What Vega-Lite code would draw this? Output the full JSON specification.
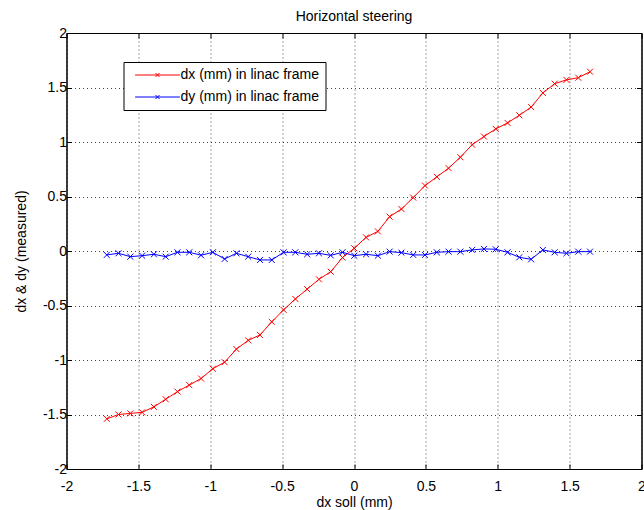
{
  "$schema": "https://vega.github.io/schema/vega-lite/v6.json",
  "width": 575,
  "height": 436,
  "autosize": "none",
  "padding": {"left": 66.5, "top": 33, "right": 2.5, "bottom": 41},
  "background": "white",
  "title": {
    "text": "Horizontal steering",
    "font": "Liberation Sans",
    "fontSize": 14,
    "fontWeight": "normal",
    "color": "black",
    "anchor": "middle",
    "offset": 2
  },
  "config": {
    "view": {"stroke": "black", "strokeWidth": 1},
    "axis": {
      "labelFont": "Liberation Sans",
      "labelFontSize": 14,
      "labelColor": "black",
      "titleFont": "Liberation Sans",
      "titleFontSize": 14,
      "titleFontWeight": "normal",
      "titleColor": "black",
      "domainColor": "black",
      "tickColor": "black",
      "tickSize": -5,
      "gridColor": "black",
      "gridOpacity": 0.75,
      "gridDash": [1, 3],
      "labelFlush": false,
      "labelOverlap": false,
      "labelBound": false,
      "labelExpr": "'' + datum.value"
    }
  },
  "data": {
    "values": [
      {"x": -1.72, "series": "dx (mm) in linac frame", "y": -1.54},
      {"x": -1.638, "series": "dx (mm) in linac frame", "y": -1.5},
      {"x": -1.556, "series": "dx (mm) in linac frame", "y": -1.49},
      {"x": -1.474, "series": "dx (mm) in linac frame", "y": -1.48},
      {"x": -1.392, "series": "dx (mm) in linac frame", "y": -1.43},
      {"x": -1.31, "series": "dx (mm) in linac frame", "y": -1.36},
      {"x": -1.228, "series": "dx (mm) in linac frame", "y": -1.29},
      {"x": -1.146, "series": "dx (mm) in linac frame", "y": -1.23},
      {"x": -1.064, "series": "dx (mm) in linac frame", "y": -1.17},
      {"x": -0.982, "series": "dx (mm) in linac frame", "y": -1.08},
      {"x": -0.9, "series": "dx (mm) in linac frame", "y": -1.02},
      {"x": -0.818, "series": "dx (mm) in linac frame", "y": -0.9},
      {"x": -0.736, "series": "dx (mm) in linac frame", "y": -0.82},
      {"x": -0.654, "series": "dx (mm) in linac frame", "y": -0.77},
      {"x": -0.572, "series": "dx (mm) in linac frame", "y": -0.65},
      {"x": -0.49, "series": "dx (mm) in linac frame", "y": -0.54},
      {"x": -0.408, "series": "dx (mm) in linac frame", "y": -0.44},
      {"x": -0.326, "series": "dx (mm) in linac frame", "y": -0.35},
      {"x": -0.244, "series": "dx (mm) in linac frame", "y": -0.26},
      {"x": -0.162, "series": "dx (mm) in linac frame", "y": -0.19},
      {"x": -0.08, "series": "dx (mm) in linac frame", "y": -0.06},
      {"x": 0.002, "series": "dx (mm) in linac frame", "y": 0.025},
      {"x": 0.084, "series": "dx (mm) in linac frame", "y": 0.125},
      {"x": 0.166, "series": "dx (mm) in linac frame", "y": 0.18},
      {"x": 0.248, "series": "dx (mm) in linac frame", "y": 0.315},
      {"x": 0.33, "series": "dx (mm) in linac frame", "y": 0.385},
      {"x": 0.412, "series": "dx (mm) in linac frame", "y": 0.49},
      {"x": 0.494, "series": "dx (mm) in linac frame", "y": 0.6},
      {"x": 0.576, "series": "dx (mm) in linac frame", "y": 0.68},
      {"x": 0.658, "series": "dx (mm) in linac frame", "y": 0.76},
      {"x": 0.74, "series": "dx (mm) in linac frame", "y": 0.86},
      {"x": 0.822, "series": "dx (mm) in linac frame", "y": 0.975},
      {"x": 0.904, "series": "dx (mm) in linac frame", "y": 1.05},
      {"x": 0.986, "series": "dx (mm) in linac frame", "y": 1.12},
      {"x": 1.068, "series": "dx (mm) in linac frame", "y": 1.175},
      {"x": 1.15, "series": "dx (mm) in linac frame", "y": 1.245},
      {"x": 1.232, "series": "dx (mm) in linac frame", "y": 1.32},
      {"x": 1.314, "series": "dx (mm) in linac frame", "y": 1.45},
      {"x": 1.396, "series": "dx (mm) in linac frame", "y": 1.535},
      {"x": 1.478, "series": "dx (mm) in linac frame", "y": 1.57},
      {"x": 1.56, "series": "dx (mm) in linac frame", "y": 1.59},
      {"x": 1.642, "series": "dx (mm) in linac frame", "y": 1.645},
      {"x": -1.72, "series": "dy (mm) in linac frame", "y": -0.036},
      {"x": -1.638, "series": "dy (mm) in linac frame", "y": -0.021},
      {"x": -1.556, "series": "dy (mm) in linac frame", "y": -0.052},
      {"x": -1.474, "series": "dy (mm) in linac frame", "y": -0.043},
      {"x": -1.392, "series": "dy (mm) in linac frame", "y": -0.03},
      {"x": -1.31, "series": "dy (mm) in linac frame", "y": -0.052},
      {"x": -1.228, "series": "dy (mm) in linac frame", "y": -0.012},
      {"x": -1.146, "series": "dy (mm) in linac frame", "y": -0.012},
      {"x": -1.064, "series": "dy (mm) in linac frame", "y": -0.039},
      {"x": -0.982, "series": "dy (mm) in linac frame", "y": -0.012},
      {"x": -0.9, "series": "dy (mm) in linac frame", "y": -0.073},
      {"x": -0.818, "series": "dy (mm) in linac frame", "y": -0.021},
      {"x": -0.736, "series": "dy (mm) in linac frame", "y": -0.052},
      {"x": -0.654, "series": "dy (mm) in linac frame", "y": -0.082},
      {"x": -0.572, "series": "dy (mm) in linac frame", "y": -0.082},
      {"x": -0.49, "series": "dy (mm) in linac frame", "y": -0.012},
      {"x": -0.408, "series": "dy (mm) in linac frame", "y": -0.012},
      {"x": -0.326, "series": "dy (mm) in linac frame", "y": -0.03},
      {"x": -0.244, "series": "dy (mm) in linac frame", "y": -0.021},
      {"x": -0.162, "series": "dy (mm) in linac frame", "y": -0.04},
      {"x": -0.08, "series": "dy (mm) in linac frame", "y": -0.012},
      {"x": 0.002, "series": "dy (mm) in linac frame", "y": -0.043},
      {"x": 0.084, "series": "dy (mm) in linac frame", "y": -0.03},
      {"x": 0.166, "series": "dy (mm) in linac frame", "y": -0.043},
      {"x": 0.248, "series": "dy (mm) in linac frame", "y": -0.006},
      {"x": 0.33, "series": "dy (mm) in linac frame", "y": -0.015},
      {"x": 0.412, "series": "dy (mm) in linac frame", "y": -0.036},
      {"x": 0.494, "series": "dy (mm) in linac frame", "y": -0.036},
      {"x": 0.576, "series": "dy (mm) in linac frame", "y": -0.012},
      {"x": 0.658, "series": "dy (mm) in linac frame", "y": -0.006},
      {"x": 0.74, "series": "dy (mm) in linac frame", "y": -0.006},
      {"x": 0.822, "series": "dy (mm) in linac frame", "y": 0.01},
      {"x": 0.904, "series": "dy (mm) in linac frame", "y": 0.019},
      {"x": 0.986, "series": "dy (mm) in linac frame", "y": 0.016},
      {"x": 1.068, "series": "dy (mm) in linac frame", "y": -0.012},
      {"x": 1.15, "series": "dy (mm) in linac frame", "y": -0.058},
      {"x": 1.232, "series": "dy (mm) in linac frame", "y": -0.076},
      {"x": 1.314, "series": "dy (mm) in linac frame", "y": 0.01},
      {"x": 1.396, "series": "dy (mm) in linac frame", "y": -0.012},
      {"x": 1.478, "series": "dy (mm) in linac frame", "y": -0.021},
      {"x": 1.56, "series": "dy (mm) in linac frame", "y": -0.006},
      {"x": 1.642, "series": "dy (mm) in linac frame", "y": -0.006}
    ]
  },
  "resolve": {"axis": {"x": "independent", "y": "independent"}},
  "layer": [
    {
      "mark": {"type": "line", "strokeWidth": 1},
      "encoding": {
        "x": {
          "field": "x", "type": "quantitative",
          "scale": {"domain": [-2, 2], "nice": false, "zero": false},
          "axis": {
            "title": "dx soll (mm)",
            "values": [-2, -1.5, -1, -0.5, 0, 0.5, 1, 1.5, 2],
            "grid": true,
            "labelPadding": 15,
            "titlePadding": 2
          }
        },
        "y": {
          "field": "y", "type": "quantitative",
          "scale": {"domain": [-2, 2], "nice": false, "zero": false},
          "axis": {
            "title": "dx & dy (measured)",
            "values": [-2, -1.5, -1, -0.5, 0, 0.5, 1, 1.5, 2],
            "grid": true,
            "labelPadding": 5,
            "titlePadding": 14
          }
        },
        "color": {
          "field": "series", "type": "nominal",
          "scale": {
            "domain": ["dx (mm) in linac frame", "dy (mm) in linac frame"],
            "range": ["#ff0000", "#0000ff"]
          },
          "legend": {
            "title": null,
            "orient": "none",
            "legendX": 57,
            "legendY": 29,
            "direction": "vertical",
            "strokeColor": "black",
            "fillColor": "white",
            "padding": 6,
            "rowPadding": 8,
            "symbolType": "M -5.6 0 L 5.6 0 M -0.5 -0.5 L 0.5 0.5 M -0.5 0.5 L 0.5 -0.5",
            "symbolSize": 64,
            "symbolStrokeWidth": 1,
            "symbolOffset": 21,
            "labelOffset": 16,
            "labelFont": "Liberation Sans",
            "labelFontSize": 14,
            "labelColor": "black",
            "labelLimit": 400
          }
        }
      }
    },
    {
      "mark": {
        "type": "point",
        "shape": "M -1 -1 L 1 1 M -1 1 L 1 -1",
        "size": 36,
        "filled": false,
        "strokeWidth": 1,
        "opacity": 1
      },
      "encoding": {
        "x": {
          "field": "x", "type": "quantitative",
          "axis": {
            "orient": "top", "title": null, "labels": false, "grid": false,
            "values": [-2, -1.5, -1, -0.5, 0, 0.5, 1, 1.5, 2]
          }
        },
        "y": {
          "field": "y", "type": "quantitative",
          "axis": {
            "orient": "right", "title": null, "labels": false, "grid": false,
            "values": [-2, -1.5, -1, -0.5, 0, 0.5, 1, 1.5, 2]
          }
        },
        "color": {"field": "series", "type": "nominal"}
      }
    }
  ]
}
